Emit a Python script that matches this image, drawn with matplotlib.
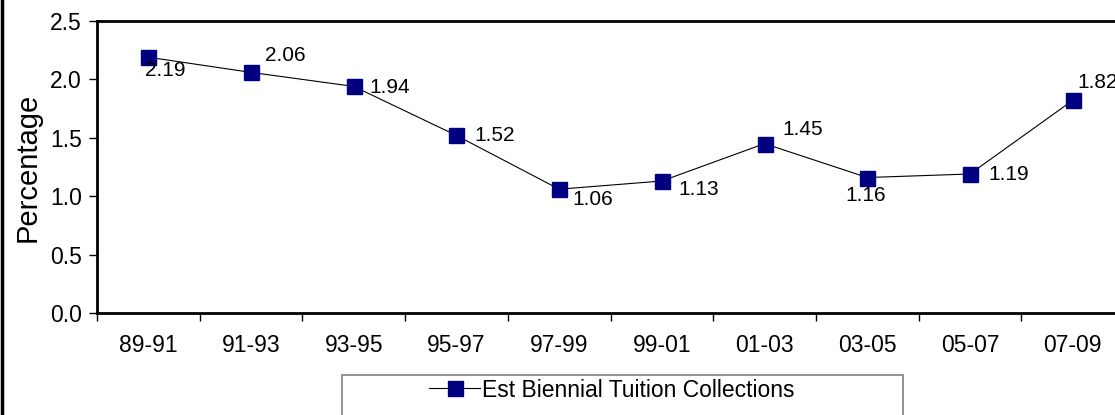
import matplotlib
matplotlib.use("Agg")
import matplotlib.pyplot as plt
from matplotlib.lines import Line2D
from matplotlib.patches import Rectangle

plt.rcParams['font.family'] = ['Liberation Sans', 'DejaVu Sans']

periods = ["89-91", "91-93", "93-95", "95-97", "97-99",
           "99-01", "01-03", "03-05", "05-07", "07-09"]
tuition_pct = [2.19, 2.06, 1.94, 1.52, 1.06, 1.13, 1.45, 1.16, 1.19, 1.82]
series_name = "Est Biennial Tuition Collections"
y_ticks = [0.0, 0.5, 1.0, 1.5, 2.0, 2.5]

# label offsets in pixels (dx, dy) relative to each point, left-aligned text
label_offsets_px = [(-3, -13), (14, 17), (16, -1), (18, 0), (13, -10),
                    (17, -8), (18, 14), (-22, -18), (18, 0), (5, 18)]

W, H, DPI = 1115, 415, 100
fig = plt.figure(figsize=(W / DPI, H / DPI), dpi=DPI)
ax = fig.add_axes([97 / W, (H - 313) / H, 1027 / W, 292 / H])

navy = "#000080"
x = list(range(len(periods)))
ax.plot(x, tuition_pct, color="black", linewidth=0.8, marker="s",
        markersize=10.8, markerfacecolor=navy, markeredgecolor=navy,
        label=series_name, zorder=3)

pt = 72 / DPI
for xi, v, (dx, dy) in zip(x, tuition_pct, label_offsets_px):
    ax.annotate(f"{v:.2f}", (xi, v), xytext=(dx * pt, dy * pt),
                textcoords="offset points", ha="left", va="center",
                fontsize=15, color="black", zorder=4, annotation_clip=False)

ax.set_xlim(-0.5, len(periods) - 0.5)
ax.set_ylim(0, 2.5)
ax.set_yticks(y_ticks)
ax.set_yticklabels([f"{t:.1f}" for t in y_ticks])
ax.set_xticks(x)
ax.set_xticklabels(periods)
ax.set_xticks([i - 0.5 for i in range(len(periods) + 1)], minor=True)
ax.tick_params(axis="x", which="major", length=0, pad=15, labelsize=16.5)
ax.tick_params(axis="x", which="minor", length=6, width=1, direction="out")
ax.tick_params(axis="y", which="major", length=6, width=1, direction="out",
               pad=5, labelsize=16.5)

for side in ("left", "bottom", "top", "right"):
    ax.spines[side].set_linewidth(2)
    ax.spines[side].set_color("black")
ax.spines["right"].set_visible(False)

ax.set_ylabel("Percentage", fontsize=21, labelpad=6)

# outer chart border on the left edge
fig.add_artist(Line2D([1.5 / W, 1.5 / W], [0, 1], transform=fig.transFigure,
                      color="black", linewidth=2.5))

# legend box
fig.add_artist(Rectangle((342 / W, -0.05), (903 - 342) / W, (H - 375) / H + 0.05,
                         transform=fig.transFigure, facecolor="white",
                         edgecolor="#808080", linewidth=1.2))
handles, labels = ax.get_legend_handles_labels()
fig.legend(handles, labels, loc="center", bbox_to_anchor=(612 / W, (H - 390) / H),
           frameon=False, fontsize=16.5, handlelength=2.2, handletextpad=0.1,
           markerscale=1.0)

fig.savefig("out.png", dpi=DPI)
